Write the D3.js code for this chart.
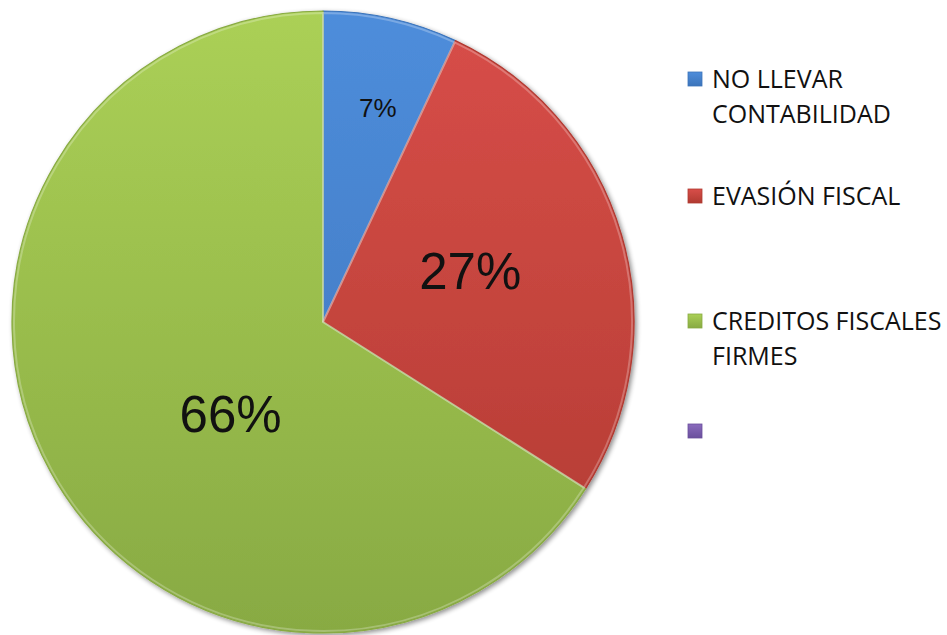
<!DOCTYPE html>
<html>
<head>
<meta charset="utf-8">
<script src="https://cdn.jsdelivr.net/npm/d3@7"></script>
<style>
  html, body { margin: 0; padding: 0; background: #fff; }
  svg { display: block; }
</style>
</head>
<body>
<svg id="chart" width="947" height="635"></svg>
<script>
// Categories and their shares (percent)
const categories = ["NO LLEVAR CONTABILIDAD", "EVASIÓN FISCAL", "CREDITOS FISCALES FIRMES", ""];
const values = [7, 27, 66, 0];
const valueLabels = ["7%", "27%", "66%", ""];
const legendLines = [["NO LLEVAR", "CONTABILIDAD"], ["EVASIÓN FISCAL"], ["CREDITOS FISCALES", "FIRMES"], [""]];

// Fill colours: light (top) and dark (bottom) stops for each slice
const topColors = ["#4e8ddb", "#d84e49", "#abd056", "#8a6bbd"];
const bottomColors = ["#3c74ba", "#b03a31", "#88aa43", "#6a4f9c"];
const labelSizes = [26, 51, 51, 0];
// label placement: angle (degrees, clockwise from top) and radius fraction
const labelAngle = [14.4, 71.2, 225];
const labelRadius = [0.71, 0.5, 0.42];

const svg = d3.select("#chart");
const cx = 323, cy = 322, r = 311;

const defs = svg.append("defs");
categories.forEach((c, i) => {
  const g = defs.append("linearGradient")
    .attr("id", "grad" + i)
    .attr("gradientUnits", "userSpaceOnUse")
    .attr("x1", 0).attr("y1", -r).attr("x2", 0).attr("y2", r);
  g.append("stop").attr("offset", "0%").attr("stop-color", topColors[i]);
  g.append("stop").attr("offset", "100%").attr("stop-color", bottomColors[i]);
});
// soft drop shadow under the pie
const f = defs.append("filter").attr("id", "shadow").attr("x", "-10%").attr("y", "-10%").attr("width", "120%").attr("height", "120%");
f.append("feGaussianBlur").attr("in", "SourceAlpha").attr("stdDeviation", 2.5).attr("result", "b");
f.append("feOffset").attr("in", "b").attr("dx", 1.5).attr("dy", 2).attr("result", "o");
f.append("feComponentTransfer").attr("in", "o").attr("result", "o2")
  .append("feFuncA").attr("type", "linear").attr("slope", 0.45);
const fm = f.append("feMerge");
fm.append("feMergeNode").attr("in", "o2");
fm.append("feMergeNode").attr("in", "SourceGraphic");

const pie = d3.pie().sort(null).value(d => d)(values);
const arc = d3.arc().innerRadius(0).outerRadius(r);
const bevelArc = d3.arc().innerRadius(0).outerRadius(r - 2);

const g = svg.append("g").attr("transform", `translate(${cx},${cy})`).attr("filter", "url(#shadow)");

g.selectAll("path.slice")
  .data(pie.filter(d => d.data > 0))
  .join("path")
  .attr("class", "slice")
  .attr("d", arc)
  .attr("fill", d => `url(#grad${d.index})`)
  .attr("stroke", d => bottomColors[d.index])
  .attr("stroke-width", 1.2)
  .attr("stroke-linejoin", "round");

// subtle bevel highlight along each slice edge
g.selectAll("path.bevel")
  .data(pie.filter(d => d.data > 0))
  .join("path")
  .attr("class", "bevel")
  .attr("d", bevelArc)
  .attr("fill", "none")
  .attr("stroke", "#ffffff")
  .attr("stroke-opacity", 0.25)
  .attr("stroke-width", 2);

// value labels
const lbl = svg.append("g").attr("transform", `translate(${cx},${cy})`);
lbl.selectAll("text.val")
  .data(pie.filter(d => d.data > 0))
  .join("text")
  .attr("class", "val")
  .attr("x", d => Math.sin(labelAngle[d.index] * Math.PI / 180) * r * labelRadius[d.index])
  .attr("y", d => -Math.cos(labelAngle[d.index] * Math.PI / 180) * r * labelRadius[d.index])
  .attr("text-anchor", "middle")
  .attr("dominant-baseline", "central")
  .attr("font-family", "'Liberation Sans', Arial, sans-serif")
  .attr("font-size", d => labelSizes[d.index])
  .attr("fill", "#111")
  .text(d => valueLabels[d.index]);

// legend
const rowY = [88, 205, 330, 440];
const legend = svg.append("g").attr("font-family", "'Open Sans', sans-serif").attr("font-size", 25).attr("fill", "#111");
categories.forEach((c, i) => {
  const y = rowY[i];
  const mg = defs.append("linearGradient").attr("id", "lg" + i).attr("x1", 0).attr("y1", 0).attr("x2", 0).attr("y2", 1);
  mg.append("stop").attr("offset", "0%").attr("stop-color", topColors[i]);
  mg.append("stop").attr("offset", "100%").attr("stop-color", bottomColors[i]);
  legend.append("rect")
    .attr("x", 688).attr("y", y - 16).attr("width", 14).attr("height", 14)
    .attr("fill", `url(#lg${i})`).attr("stroke", bottomColors[i]).attr("stroke-width", 0.8);
  const t = legend.append("text").attr("x", 712).attr("y", y);
  legendLines[i].forEach((line, k) => {
    t.append("tspan").attr("x", 712).attr("dy", k === 0 ? 0 : 35).text(line);
  });
});
</script>
</body>
</html>
